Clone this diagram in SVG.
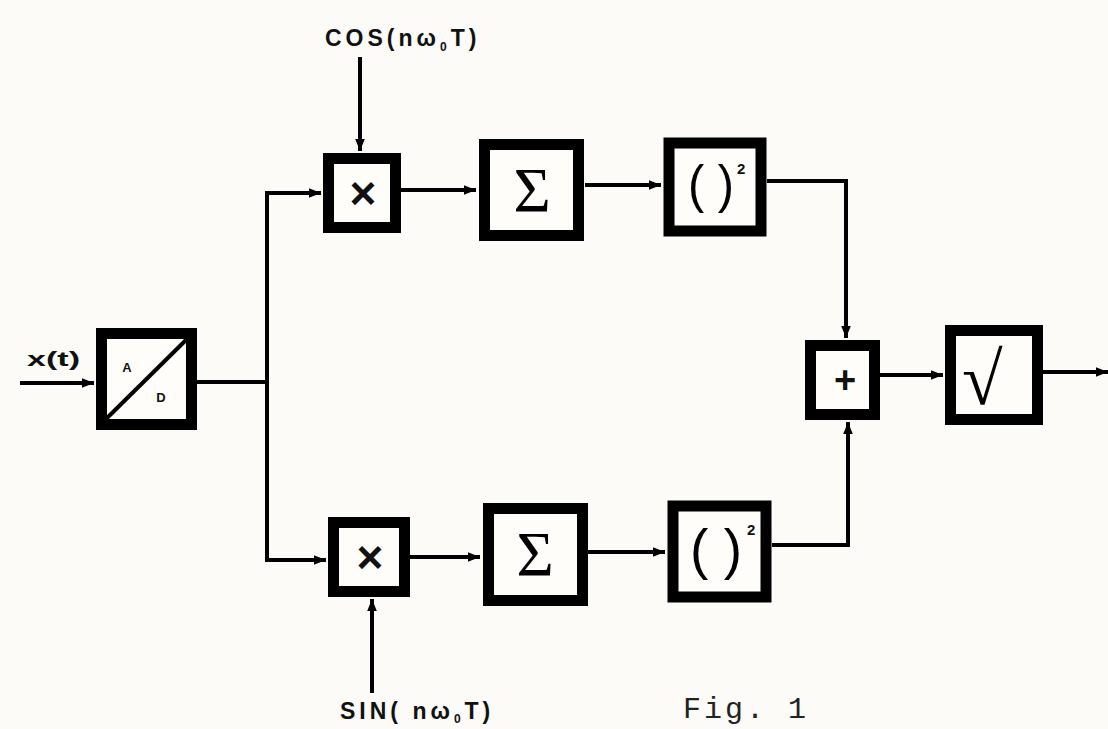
<svg xmlns="http://www.w3.org/2000/svg" width="1108" height="729" viewBox="0 0 1108 729">
<style>
.box{fill:#fefdfa;stroke:#000;stroke-width:11}
.wire{fill:none;stroke:#000;stroke-width:4}
.lbl{font-family:"Liberation Sans",Arial,sans-serif;font-weight:bold;fill:#111}
.sym{font-family:"Liberation Sans",Arial,sans-serif;fill:#000}
.ser{font-family:"Liberation Serif","Times New Roman",serif;fill:#000}
</style>
<defs>
<marker id="arr" viewBox="0 0 10 8" refX="10" refY="4" markerWidth="12" markerHeight="10" markerUnits="userSpaceOnUse" orient="auto">
<path d="M0,0 L10,4 L0,8 Z" fill="#000"/>
</marker>
</defs>
<rect width="1108" height="729" fill="#fcfbf7"/>
<g id="connectors">
<path class="wire" d="M20,383 H94" marker-end="url(#arr)"/>
<path class="wire" d="M197,382 H267 V193 H321" marker-end="url(#arr)"/>
<path class="wire" d="M267,382 V560 H326" marker-end="url(#arr)"/>
<path class="wire" d="M360,57 V151" marker-end="url(#arr)"/>
<path class="wire" d="M401,190 H476" marker-end="url(#arr)"/>
<path class="wire" d="M585,185 H661" marker-end="url(#arr)"/>
<path class="wire" d="M767,181 H846 V338" marker-end="url(#arr)"/>
<path class="wire" d="M410,557 H480" marker-end="url(#arr)"/>
<path class="wire" d="M372,693 V599" marker-end="url(#arr)"/>
<path class="wire" d="M588,552 H665" marker-end="url(#arr)"/>
<path class="wire" d="M772,545 H848 V422" marker-end="url(#arr)"/>
<path class="wire" d="M880,375 H943" marker-end="url(#arr)"/>
<path class="wire" d="M1043,372 H1108" marker-end="url(#arr)"/>
</g>
<g id="label-x">
<text class="lbl" x="27" y="366" font-size="21" textLength="53" lengthAdjust="spacingAndGlyphs">x(t)</text>
</g>
<g id="label-cos">
<text class="lbl" x="325" y="46" font-size="23" letter-spacing="4">COS(nω<tspan font-size="12" dy="5">0</tspan><tspan dy="-5">T)</tspan></text>
</g>
<g id="label-sin">
<text class="lbl" x="340" y="719" font-size="23" letter-spacing="4">SIN( nω<tspan font-size="12" dy="4">0</tspan><tspan dy="-4">T)</tspan></text>
</g>
<g id="ad">
<rect class="box" x="101.5" y="333.5" width="90" height="91"/>
<line x1="106" y1="419" x2="187" y2="339" stroke="#000" stroke-width="4"/>
<text class="lbl" x="127" y="372" font-size="13" text-anchor="middle">A</text>
<text class="lbl" x="161" y="402" font-size="13" text-anchor="middle">D</text>
</g>
<g id="mul-top">
<rect class="box" x="328.5" y="158.5" width="67" height="69"/>
<text class="lbl" x="363" y="209" font-size="46" text-anchor="middle">×</text>
</g>
<g id="sum-top">
<rect class="box" x="484.5" y="144.5" width="94" height="91"/>
<text class="ser" x="532" y="212" font-size="64" text-anchor="middle">Σ</text>
</g>
<g id="sq-top">
<rect class="box" x="669" y="143" width="92" height="88"/>
<text class="sym" x="688" y="202" font-size="52" textLength="46" lengthAdjust="spacingAndGlyphs">( )</text>
<text class="lbl" x="737" y="174" font-size="15">2</text>
</g>
<g id="mul-bot">
<rect class="box" x="333.5" y="522.5" width="71" height="69"/>
<text class="lbl" x="370" y="573" font-size="46" text-anchor="middle">×</text>
</g>
<g id="sum-bot">
<rect class="box" x="488.5" y="508.5" width="94" height="92"/>
<text class="ser" x="535" y="576" font-size="64" text-anchor="middle">Σ</text>
</g>
<g id="sq-bot">
<rect class="box" x="673" y="506" width="93" height="91"/>
<text class="sym" x="690" y="568" font-size="56" textLength="52" lengthAdjust="spacingAndGlyphs">( )</text>
<text class="lbl" x="747" y="535" font-size="15">2</text>
</g>
<g id="add">
<rect class="box" x="810.5" y="345.5" width="64" height="69"/>
<text class="lbl" x="845" y="393" font-size="38" text-anchor="middle">+</text>
</g>
<g id="sqrt">
<rect class="box" x="950.5" y="330.5" width="87" height="89"/>
<text class="ser" x="962" y="404" font-size="74">√</text>
</g>
<g id="caption">
<text x="683" y="718" font-family="'Liberation Mono','Courier New',monospace" font-size="30" letter-spacing="3" fill="#222">Fig. 1</text>
</g>
</svg>
